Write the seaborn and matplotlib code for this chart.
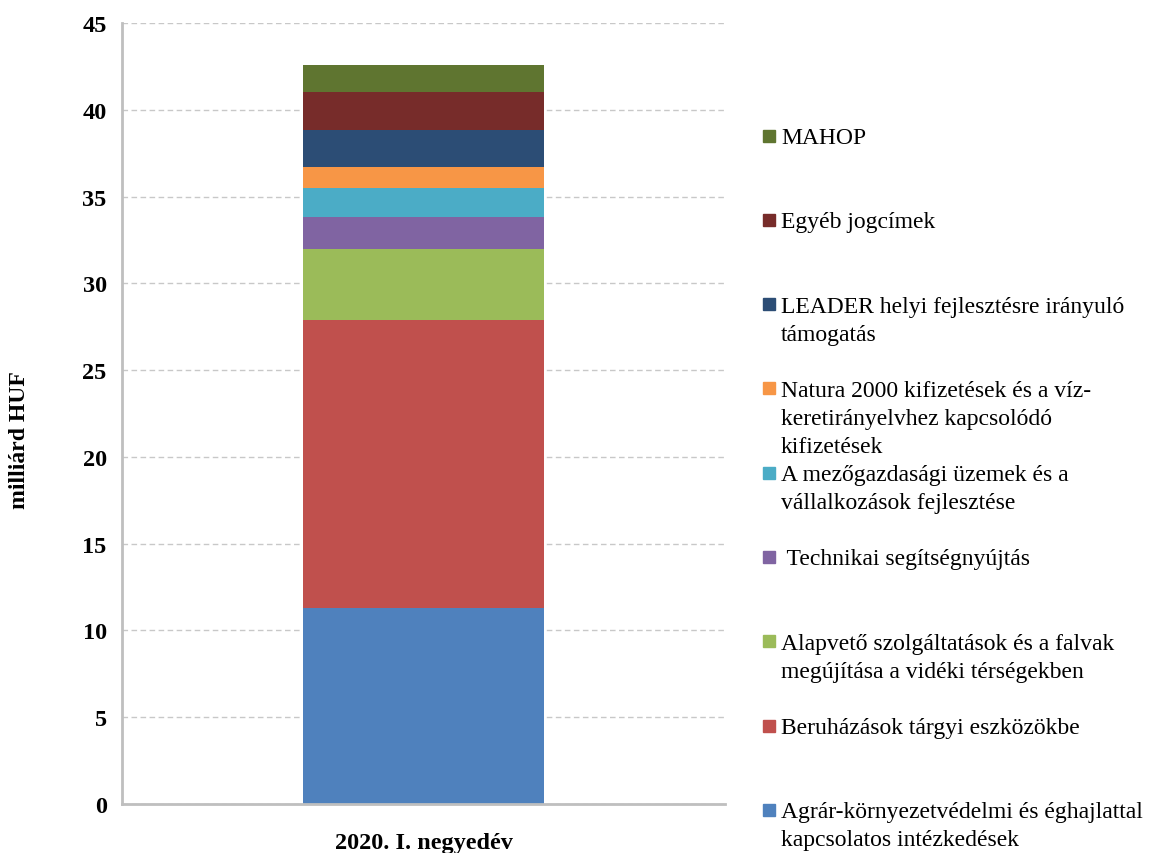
import pandas as pd
import seaborn as sns
import matplotlib.pyplot as plt
from matplotlib.patches import Rectangle
from matplotlib.ticker import FixedLocator

# -----------------------------
# Adatok (milliárd HUF), alulról felfelé
# -----------------------------
kategoriak = [
    "Agrár-környezetvédelmi és éghajlattal\nkapcsolatos intézkedések",
    "Beruházások tárgyi eszközökbe",
    "Alapvető szolgáltatások és a falvak\nmegújítása a vidéki térségekben",
    " Technikai segítségnyújtás",
    "A mezőgazdasági üzemek és a\nvállalkozások fejlesztése",
    "Natura 2000 kifizetések és a víz-\nkeretirányelvhez kapcsolódó\nkifizetések",
    "LEADER helyi fejlesztésre irányuló\ntámogatás",
    "Egyéb jogcímek",
    "MAHOP",
]
ertekek = [11.3, 16.6, 4.1, 1.8, 1.7, 1.2, 2.15, 2.2, 1.55]
szinek = ["#4F81BD", "#C0504D", "#9BBB59", "#8064A2", "#4BACC6",
          "#F79646", "#2C4D75", "#772C2A", "#5F7530"]
idoszak = "2020. I. negyedév"

# halmozott magasságok: a legmagasabbat rajzoljuk először
df = pd.DataFrame({"kat": kategoriak, "ertek": ertekek, "szin": szinek})
df["kum"] = df["ertek"].cumsum()
df["idoszak"] = idoszak
df_rajz = df.iloc[::-1]

sns.set_style("white")
plt.rcParams["font.family"] = ["Liberation Serif", "DejaVu Serif"]
plt.rcParams["text.color"] = "black"
plt.rcParams["axes.labelcolor"] = "black"

fig = plt.figure(figsize=(11.51, 8.54), dpi=100)
ax = fig.add_axes([122 / 1151, 49 / 854, 603 / 1151, 781 / 854])

sns.barplot(data=df_rajz, x="idoszak", y="kum", hue="kat",
            hue_order=list(df_rajz["kat"]), palette=list(df_rajz["szin"]),
            dodge=False, width=0.4, ax=ax, legend=False, linewidth=0,
            saturation=1)

ax.set_xlim(-0.5, 0.5)
ax.set_ylim(0, 45)
ax.set_yticks(range(0, 46, 5))
ax.yaxis.grid(True, color="#c8c8c8", linestyle=(0, (4, 2.5)), linewidth=1.0)
ax.set_axisbelow(True)

for s in ["top", "right"]:
    ax.spines[s].set_visible(False)
for s in ["left", "bottom"]:
    ax.spines[s].set_color("#bfbfbf")
    ax.spines[s].set_linewidth(2)

ax.tick_params(axis="y", direction="out", length=5, width=1.5, color="#bfbfbf",
               labelsize=17.5, labelcolor="black", pad=6)
ax.tick_params(axis="x", which="major", length=0, labelsize=17.5,
               labelcolor="black", pad=20)
ax.xaxis.set_minor_locator(FixedLocator([-0.5, 0.5]))
ax.tick_params(axis="x", which="minor", direction="out", length=5, width=1.5,
               color="#bfbfbf")
for lab in ax.get_yticklabels() + ax.get_xticklabels():
    lab.set_fontweight("bold")

ax.set_xlabel("")
ax.set_ylabel("milliárd HUF", fontsize=17, fontweight="bold")
ax.yaxis.set_label_coords(-0.152, 0.467)

# -----------------------------
# Jelmagyarázat (felülről lefelé, egyenletes sávokban)
# -----------------------------
W, H = 1151, 854
for i, (kat, szin) in enumerate(zip(kategoriak[::-1], szinek[::-1])):
    cy = 136.5 + i * 84.3
    fig.patches.append(Rectangle((763 / W, 1 - (cy + 6) / H), 12 / W, 12 / H,
                                 transform=fig.transFigure, color=szin))
    for j, sor in enumerate(kat.split("\n")):
        fig.text(781 / W, 1 - (cy + 7.5 + 28 * j) / H, sor,
                 fontsize=17, va="baseline", ha="left")

fig.savefig("out.png", dpi=100)
